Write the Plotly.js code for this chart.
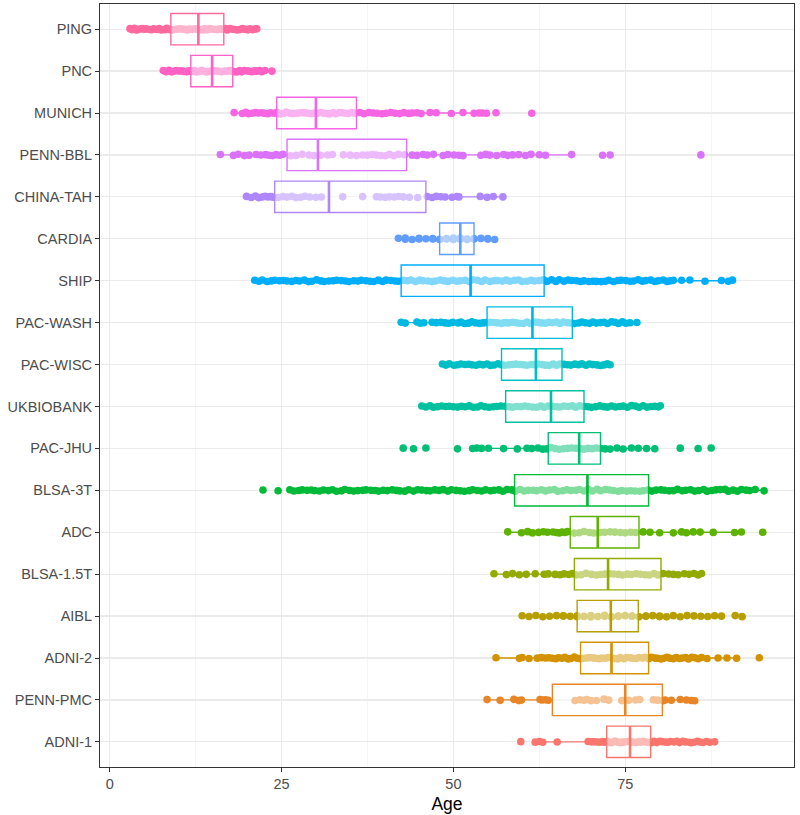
<!DOCTYPE html>
<html>
<head>
<meta charset="utf-8">
<script src="https://cdn.plot.ly/plotly-3.0.1.min.js"></script>
<style>html,body{margin:0;padding:0;background:#fff;}#chart{width:800px;height:815px;}</style>
</head>
<body>
<div id="chart"></div>
<script>
// Categories, bottom to top
const categories = ['ADNI-1','PENN-PMC','ADNI-2','AIBL','BLSA-1.5T','ADC','BLSA-3T','PAC-JHU','UKBIOBANK','PAC-WISC','PAC-WASH','SHIP','CARDIA','CHINA-TAH','PENN-BBL','MUNICH','PNC','PING'];

// Box statistics, same order as categories
const q1s      = [72.3, 64.4, 68.5, 68.0, 67.6, 67.0, 58.9, 63.8, 57.6, 57.0, 54.9, 42.4, 48.0, 24.0, 25.8, 24.3, 11.8, 8.9];
const medians  = [75.7, 75.0, 73.0, 72.9, 72.5, 71.0, 69.5, 68.3, 64.2, 62.0, 61.5, 52.5, 51.0, 31.9, 30.3, 30.0, 14.9, 12.9];
const q3s      = [78.7, 80.4, 78.4, 76.9, 80.2, 77.0, 78.4, 71.4, 69.0, 65.8, 67.3, 63.2, 53.0, 46.0, 43.2, 35.9, 17.9, 16.6];
const lowers   = [63.0, 54.9, 56.2, 59.9, 55.9, 57.9, 30.0, 52.8, 45.4, 48.4, 42.4, 21.1, 42.0, 19.9, 16.1, 18.1, 7.8, 2.95];
const uppers   = [88.0, 85.1, 91.2, 89.0, 86.1, 91.9, 95.2, 79.3, 80.1, 72.8, 76.7, 90.6, 56.0, 57.2, 67.2, 54.8, 23.6, 21.4];

// Individual ages
const agesADNI1 = [59.8, 61.9, 62.5, 63.0, 65.1, 69.6, 70.1, 70.5, 70.9, 71.3, 71.7, 72.0, 72.4, 72.8, 73.1, 73.5, 73.9, 74.3, 74.6, 75.0, 75.4, 75.8, 76.1, 76.5, 76.9, 77.3, 77.6, 78.0, 78.4, 78.8, 79.2, 79.6, 80.0, 80.3, 80.8, 81.2, 81.6, 82.1, 82.5, 82.9, 83.4, 83.7, 84.3, 84.6, 85.0, 85.5, 85.9, 86.3, 86.8, 87.3, 88.0];
const agesPENNPMC = [54.9, 56.8, 58.8, 59.5, 59.9, 62.6, 62.9, 63.4, 63.8, 67.7, 68.4, 69.0, 69.4, 70.0, 70.8, 71.9, 72.6, 74.5, 75.5, 76.5, 77.1, 79.1, 79.7, 80.5, 80.8, 81.7, 83.0, 83.9, 84.6, 85.1];
const agesADNI2 = [56.2, 59.6, 60.0, 61.0, 62.2, 62.8, 63.4, 63.9, 64.4, 64.9, 65.3, 65.8, 66.2, 66.7, 67.1, 67.6, 68.0, 68.5, 68.9, 69.4, 69.8, 70.3, 70.7, 71.2, 71.6, 72.1, 72.5, 73.0, 73.4, 73.9, 74.3, 74.8, 75.2, 75.7, 76.1, 76.6, 77.0, 77.5, 77.9, 78.4, 78.8, 79.3, 79.7, 80.2, 80.6, 81.1, 81.5, 82.0, 82.4, 82.9, 83.3, 83.8, 84.2, 84.7, 85.1, 85.6, 86.1, 86.9, 88.5, 89.8, 91.2, 94.5];
const agesAIBL = [60, 61, 62, 63, 64, 65, 66, 67, 68, 69, 70, 71, 72, 73, 74, 75, 76, 77, 78, 79, 80, 81, 82, 83, 84, 85, 86, 87, 88, 89, 91, 92, 66, 68, 70, 72, 74, 76, 78, 80];
const agesBLSA15 = [55.9, 57.7, 58.6, 59.6, 60.6, 61.9, 63.2, 63.8, 64.8, 65.5, 66.1, 66.8, 67.3, 67.9, 68.6, 69.3, 70.1, 70.8, 71.4, 72.0, 72.7, 73.3, 74.0, 74.6, 75.3, 75.9, 76.6, 77.2, 77.9, 78.5, 79.2, 79.8, 80.5, 81.3, 82.0, 82.7, 83.6, 84.3, 85.0, 85.6, 86.1];
const agesADC = [57.9, 59.9, 60.8, 61.5, 62.4, 63.1, 63.7, 64.5, 65.0, 65.4, 65.8, 66.2, 66.6, 67.6, 68.3, 69.0, 69.8, 70.4, 71.3, 72.0, 72.8, 73.5, 74.3, 75.0, 75.8, 76.5, 77.6, 78.6, 80.0, 82.0, 83.2, 83.9, 84.9, 85.9, 87.8, 90.9, 91.9, 95.0];
const agesBLSA3T = [22.3, 24.5, 26.2, 26.8, 27.5, 28.0, 28.7, 29.3, 29.8, 30.5, 31.1, 31.8, 32.4, 33.0, 33.7, 34.2, 34.9, 35.5, 36.1, 36.8, 37.3, 38.0, 38.6, 39.1, 39.8, 40.4, 41.1, 41.7, 42.2, 42.9, 43.5, 44.2, 44.8, 45.4, 46.1, 46.6, 47.3, 47.9, 48.5, 49.2, 49.7, 50.4, 51.0, 51.6, 52.3, 52.8, 53.5, 54.1, 54.7, 55.4, 55.9, 56.6, 57.2, 57.8, 58.5, 59.0, 59.7, 60.3, 60.9, 61.6, 62.1, 62.8, 63.4, 64.0, 64.7, 65.2, 65.9, 66.5, 67.1, 67.8, 68.3, 69.0, 69.6, 70.2, 70.9, 71.4, 72.1, 72.7, 73.3, 74.0, 74.5, 75.2, 75.8, 76.4, 77.1, 77.6, 78.3, 78.9, 79.5, 80.2, 80.7, 81.4, 82.0, 82.6, 83.3, 83.8, 84.5, 85.1, 85.7, 86.4, 86.9, 87.6, 88.2, 88.8, 89.5, 90.0, 90.7, 91.3, 91.9, 92.6, 93.1, 93.9, 95.2];
const agesPACJHU = [42.7, 44.2, 46.0, 50.6, 52.8, 53.4, 54.1, 55.1, 57.3, 59.3, 60.7, 61.4, 62.3, 63.0, 63.6, 64.2, 64.8, 65.4, 66.0, 66.6, 67.2, 67.8, 68.4, 69.0, 69.6, 70.2, 70.8, 71.4, 72.1, 72.8, 73.8, 74.7, 75.9, 76.9, 78.1, 79.3, 83.0, 85.6, 87.5];
const agesUKBIOBANK = [45.4, 46.0, 46.6, 47.1, 47.7, 48.3, 48.9, 49.4, 50.0, 50.6, 51.2, 51.7, 52.3, 52.9, 53.5, 54.0, 54.6, 55.2, 55.8, 56.3, 56.9, 57.5, 58.1, 58.6, 59.2, 59.8, 60.4, 60.9, 61.5, 62.1, 62.7, 63.2, 63.8, 64.4, 65.0, 65.5, 66.1, 66.7, 67.3, 67.8, 68.4, 69.0, 69.6, 70.1, 70.7, 71.3, 71.9, 72.4, 73.0, 73.6, 74.2, 74.7, 75.3, 75.9, 76.5, 77.0, 77.6, 78.2, 78.8, 79.3, 79.8, 80.1];
const agesPACWISC = [48.4, 48.9, 49.4, 50.1, 50.6, 51.1, 51.7, 52.2, 52.7, 53.3, 53.8, 54.3, 54.9, 55.4, 55.9, 56.5, 57.0, 57.5, 58.1, 58.6, 59.1, 59.7, 60.2, 60.7, 61.3, 61.8, 62.3, 62.9, 63.4, 63.9, 64.5, 65.0, 65.5, 66.1, 66.6, 67.1, 67.7, 68.2, 68.7, 69.3, 69.8, 70.3, 70.9, 71.4, 71.9, 72.4, 72.8];
const agesPACWASH = [42.4, 43.0, 44.7, 45.2, 45.7, 46.9, 47.5, 48.2, 48.8, 49.3, 49.9, 50.7, 51.1, 51.6, 52.2, 52.7, 53.2, 53.8, 54.3, 54.8, 55.4, 55.9, 56.4, 57.0, 57.5, 58.0, 58.6, 59.1, 59.6, 60.2, 60.7, 61.2, 61.8, 62.3, 62.8, 63.4, 63.9, 64.4, 65.0, 65.5, 66.0, 66.6, 67.1, 67.6, 68.2, 68.7, 69.2, 69.8, 70.3, 70.8, 71.4, 71.9, 72.4, 73.0, 73.5, 74.0, 74.6, 75.1, 75.7, 76.7];
const agesSHIP = [21.1, 21.7, 22.2, 22.9, 23.5, 24.0, 24.7, 25.3, 25.8, 26.5, 27.1, 27.6, 28.3, 28.9, 29.4, 30.1, 30.7, 31.2, 31.9, 32.5, 33.0, 33.7, 34.3, 34.8, 35.5, 36.1, 36.6, 37.3, 37.9, 38.4, 39.1, 39.7, 40.2, 40.9, 41.5, 42.0, 42.7, 43.3, 43.8, 44.5, 45.1, 45.6, 46.3, 46.9, 47.4, 48.1, 48.7, 49.2, 49.9, 50.5, 51.0, 51.7, 52.3, 52.8, 53.5, 54.1, 54.6, 55.3, 55.9, 56.4, 57.1, 57.7, 58.2, 58.9, 59.5, 60.0, 60.7, 61.3, 61.8, 62.5, 63.1, 63.6, 64.3, 64.9, 65.4, 66.1, 66.7, 67.2, 67.9, 68.5, 69.0, 69.7, 70.3, 70.8, 71.5, 72.1, 72.6, 73.3, 73.9, 74.4, 75.1, 75.7, 76.2, 76.9, 77.5, 78.0, 78.7, 79.3, 79.8, 80.5, 81.1, 81.6, 82.0, 83.2, 84.4, 86.6, 89.0, 90.0, 90.6];
const agesCARDIA = [42, 43, 44, 45, 46, 47, 48, 49, 50, 51, 52, 53, 54, 55, 56, 43, 45, 47, 49, 50, 51, 52, 53, 55];
const agesCHINATAH = [19.9, 20.6, 21.2, 21.7, 22.2, 22.6, 23.0, 23.4, 23.8, 24.5, 25.2, 25.8, 26.5, 27.1, 27.8, 28.4, 29.1, 30.0, 30.8, 33.9, 36.8, 38.8, 39.4, 40.1, 40.7, 41.4, 42.0, 42.7, 43.6, 44.8, 46.2, 46.9, 47.5, 48.2, 48.8, 49.8, 50.5, 50.8, 53.9, 54.9, 55.8, 57.2];
const agesPENNBBL = [16.1, 18.0, 18.7, 19.6, 20.3, 21.3, 22.0, 22.7, 23.2, 23.7, 24.2, 24.7, 25.2, 26.3, 27.1, 28.0, 29.0, 29.7, 30.7, 31.7, 32.4, 34.0, 35.0, 35.9, 36.8, 37.5, 38.2, 38.8, 39.4, 40.1, 40.7, 41.3, 42.0, 42.9, 44.0, 44.7, 45.6, 46.2, 47.1, 48.5, 49.2, 50.1, 50.8, 51.4, 54.0, 54.7, 55.3, 56.3, 57.3, 57.9, 58.6, 59.5, 60.5, 61.3, 62.5, 63.4, 67.2, 71.7, 72.8, 86.0];
const agesMUNICH = [18.1, 19.3, 19.8, 20.2, 20.7, 21.2, 21.6, 22.1, 22.5, 23.0, 23.4, 23.9, 24.4, 24.8, 25.3, 25.7, 26.2, 26.6, 27.1, 27.5, 28.0, 28.4, 28.9, 29.3, 29.8, 30.2, 30.7, 31.1, 31.6, 32.0, 32.5, 32.9, 33.4, 33.8, 34.3, 34.7, 35.2, 35.6, 36.4, 37.0, 37.7, 38.3, 38.9, 39.6, 40.2, 40.9, 41.5, 42.2, 42.8, 43.5, 44.0, 44.7, 45.3, 46.6, 47.5, 49.7, 51.4, 53.0, 53.7, 54.2, 54.8, 56.2, 61.4];
const agesPNC = [7.8, 8.2, 8.6, 9.0, 9.3, 9.7, 10.1, 10.4, 10.8, 11.2, 11.5, 11.9, 12.3, 12.6, 13.0, 13.4, 13.7, 14.1, 14.5, 14.8, 15.2, 15.6, 15.9, 16.3, 16.7, 17.0, 17.4, 17.8, 18.1, 18.5, 18.9, 19.2, 19.6, 20.0, 20.3, 20.7, 21.1, 21.4, 21.8, 22.1, 22.6, 23.6];
const agesPING = [2.95, 3.3, 3.6, 3.9, 4.2, 4.7, 5.0, 5.3, 5.8, 6.1, 6.4, 6.9, 7.2, 7.5, 8.0, 8.3, 8.6, 9.1, 9.4, 9.8, 10.2, 10.5, 10.9, 11.3, 11.6, 12.0, 12.4, 12.7, 13.1, 13.5, 13.8, 14.2, 14.6, 14.9, 15.3, 15.7, 16.0, 16.4, 16.8, 17.1, 17.5, 17.9, 18.2, 18.6, 19.0, 19.3, 19.7, 20.1, 20.4, 20.8, 21.1, 21.4];

const agesByCategory = [agesADNI1, agesPENNPMC, agesADNI2, agesAIBL, agesBLSA15, agesADC, agesBLSA3T, agesPACJHU, agesUKBIOBANK, agesPACWISC, agesPACWASH, agesSHIP, agesCARDIA, agesCHINATAH, agesPENNBBL, agesMUNICH, agesPNC, agesPING];

// ggplot2 default hue palette for 18 levels
const colors = ['#F8766D','#E88526','#D39200','#B79F00','#93AA00','#5EB300','#00BA38','#00BF74','#00C19F','#00BFC4','#00B9E3','#00ADFA','#619CFF','#AE87FF','#DB72FB','#F564E3','#FF61C3','#FF699C'];

const traces = [];
// jittered points (box traces with invisible boxes, points only)
categories.forEach((cat, i) => {
  traces.push({
    type: 'box', orientation: 'h', x: agesByCategory[i], y0: cat, name: cat,
    xaxis: 'x', yaxis: 'y',
    boxpoints: 'all', jitter: 0.06, pointpos: 0, width: 0.75,
    fillcolor: 'rgba(0,0,0,0)', line: {width: 0, color: 'rgba(0,0,0,0)'},
    marker: {color: colors[i], size: 7.6, opacity: 1},
    hoverinfo: 'skip', showlegend: false
  });
});
// boxplots on top (overlay axis), semi-transparent white fill
categories.forEach((cat, i) => {
  traces.push({
    type: 'box', orientation: 'h', y: [cat], name: cat,
    q1: [q1s[i]], median: [medians[i]], q3: [q3s[i]],
    lowerfence: [lowers[i]], upperfence: [uppers[i]],
    xaxis: 'x', yaxis: 'y2',
    boxpoints: false, width: 0.75, whiskerwidth: 0,
    fillcolor: 'rgba(255,255,255,0.5)', line: {width: 1.4, color: colors[i]},
    hoverinfo: 'skip', showlegend: false
  });
});
// thicker median bars (degenerate boxes at the median)
categories.forEach((cat, i) => {
  traces.push({
    type: 'box', orientation: 'h', y: [cat], name: cat,
    q1: [medians[i]], median: [medians[i]], q3: [medians[i]],
    lowerfence: [medians[i]], upperfence: [medians[i]],
    xaxis: 'x', yaxis: 'y2',
    boxpoints: false, width: 0.75, whiskerwidth: 0,
    fillcolor: 'rgba(0,0,0,0)', line: {width: 2.6, color: colors[i]},
    hoverinfo: 'skip', showlegend: false
  });
});

const font = 'Liberation Sans, Arial, Helvetica, sans-serif';
const layout = {
  width: 800, height: 815,
  margin: {l: 100, r: 6, t: 4, b: 48},
  paper_bgcolor: '#ffffff', plot_bgcolor: '#ffffff',
  font: {family: font, color: '#4D4D4D'},
  showlegend: false,
  boxmode: 'overlay',
  xaxis: {
    range: [-1.41, 99.55], tick0: 0, dtick: 25,
    ticks: 'outside', ticklen: 4, tickwidth: 1, tickcolor: '#333333',
    tickfont: {size: 14.5, color: '#4D4D4D', family: font},
    showgrid: true, gridcolor: '#EBEBEB', gridwidth: 1.2,
    minor: {tick0: 0, dtick: 12.5, showgrid: true, gridcolor: '#F3F3F3', gridwidth: 0.8, ticks: ''},
    zeroline: false, showline: true, mirror: true, linecolor: '#333333', linewidth: 1,
    title: {text: 'Age', font: {size: 17.5, color: '#000000', family: font}, standoff: 6}
  },
  yaxis: {
    type: 'category', categoryorder: 'array', categoryarray: categories,
    range: [-0.6, 17.6],
    ticks: 'outside', ticklen: 4, tickwidth: 1, tickcolor: '#333333',
    tickfont: {size: 14.5, color: '#4D4D4D', family: font},
    showgrid: true, gridcolor: '#EBEBEB', gridwidth: 1.2,
    zeroline: false, showline: true, mirror: true, linecolor: '#333333', linewidth: 1
  },
  yaxis2: {
    type: 'category', categoryorder: 'array', categoryarray: categories,
    range: [-0.6, 17.6], overlaying: 'y', visible: false, showgrid: false, zeroline: false
  }
};

Plotly.newPlot('chart', traces, layout, {displayModeBar: false, staticPlot: true});
</script>
</body>
</html>
